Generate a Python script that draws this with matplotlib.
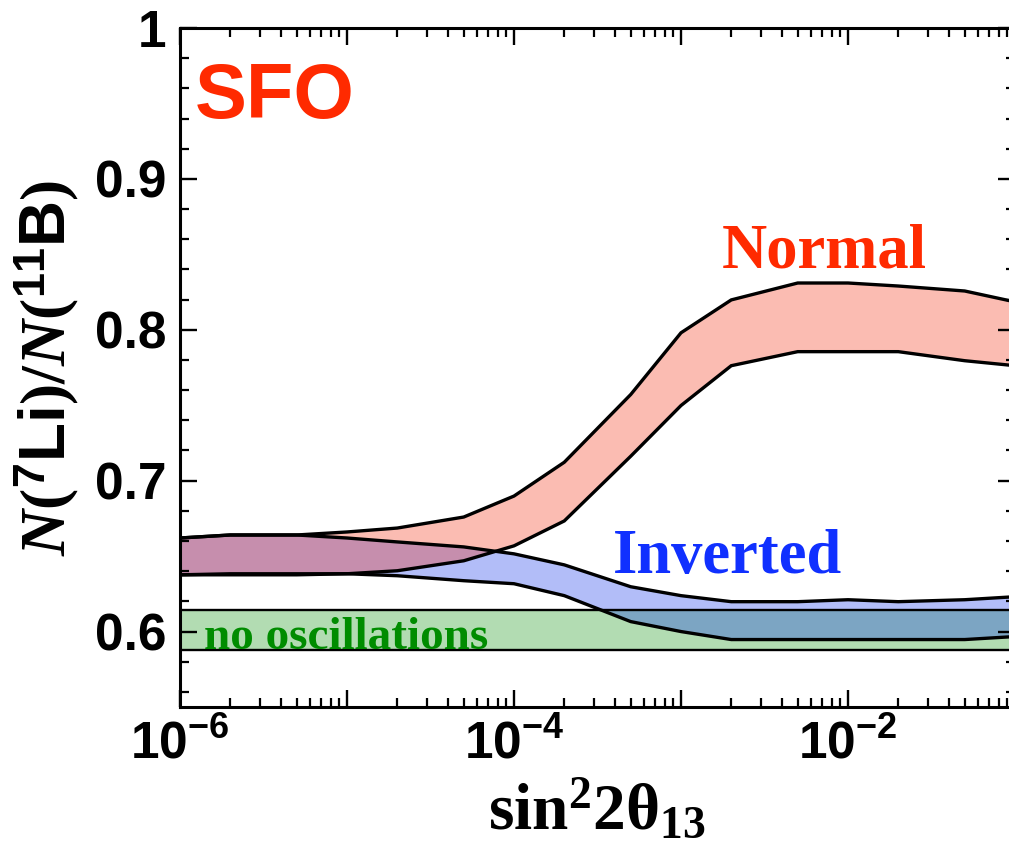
import numpy as np
import matplotlib
matplotlib.use('Agg')
import matplotlib.pyplot as plt
from matplotlib.ticker import FixedLocator, FixedFormatter, NullFormatter, LogLocator

# --- datos ---
sin2 = [1e-6, 2e-6, 5e-6, 1e-5, 2e-5, 5e-5, 1e-4, 2e-4, 5e-4,
        1e-3, 2e-3, 5e-3, 1e-2, 2e-2, 5e-2, 1e-1]

normal_alto = [0.662, 0.664, 0.664, 0.666, 0.6686, 0.6759, 0.6898, 0.7122, 0.7571,
               0.798, 0.8198, 0.831, 0.831, 0.829, 0.8257, 0.8185]
normal_bajo = [0.6376, 0.6383, 0.6383, 0.6383, 0.6403, 0.6469, 0.6568, 0.6733, 0.7162,
               0.7498, 0.7762, 0.7855, 0.7855, 0.7855, 0.7795, 0.7762]

invertido_alto = [0.662, 0.664, 0.664, 0.662, 0.6594, 0.6561, 0.6515, 0.6442, 0.6297,
                  0.6238, 0.6198, 0.6198, 0.6211, 0.6198, 0.6211, 0.6231]
invertido_bajo = [0.6376, 0.6376, 0.6376, 0.6383, 0.637, 0.6337, 0.6317, 0.6238, 0.6066,
                  0.600, 0.5947, 0.5947, 0.5947, 0.5947, 0.5947, 0.5967]

sin_osc_x = [1e-6, 1e-1]
sin_osc_bajo = 0.5881
sin_osc_alto = 0.6145

ticks_x = [1e-6, 1e-5, 1e-4, 1e-3, 1e-2, 1e-1]
etiquetas_x = [r'$\mathdefault{10^{-6}}$', '', r'$\mathdefault{10^{-4}}$', '',
               r'$\mathdefault{10^{-2}}$', '']
ticks_y = [0.6, 0.7, 0.8, 0.9, 1.0]
etiquetas_y = ['0.6', '0.7', '0.8', '0.9', '1']

# --- fuentes ---
plt.rcParams['font.family'] = ['Liberation Sans', 'DejaVu Sans']
plt.rcParams['font.weight'] = 'bold'
plt.rcParams['mathtext.fontset'] = 'custom'
plt.rcParams['mathtext.rm'] = 'Liberation Serif:bold'
plt.rcParams['mathtext.it'] = 'Liberation Serif:italic'
plt.rcParams['mathtext.bf'] = 'Liberation Sans:bold'
plt.rcParams['mathtext.default'] = 'rm'

fig = plt.figure(figsize=(10.09, 8.57), dpi=100)
ax = fig.add_axes([180/1009, 1 - 707/857, 835/1009, 679/857])

rojo = (245/255, 35/255, 0)
azul = (0, 38/255, 235/255)
verde = (0, 142/255, 0)

# banda sin oscilaciones
ax.fill_between(sin_osc_x, sin_osc_bajo, sin_osc_alto, color=verde, alpha=0.3, lw=0)
ax.plot(sin_osc_x, [sin_osc_bajo]*2, color='k', lw=1.7)
ax.plot(sin_osc_x, [sin_osc_alto]*2, color='k', lw=1.7)

# jerarquia invertida
ax.fill_between(sin2, invertido_bajo, invertido_alto, color=azul, alpha=0.3, lw=0)
# jerarquia normal
ax.fill_between(sin2, normal_bajo, normal_alto, color=rojo, alpha=0.3, lw=0)

for serie in (invertido_alto, invertido_bajo, normal_alto, normal_bajo):
    ax.plot(sin2, serie, color='k', lw=2.4, solid_joinstyle='miter')

ax.set_xscale('log')
ax.set_xlim(1e-6, 1e-1)
ax.set_ylim(0.55, 1.0)

ax.xaxis.set_major_locator(FixedLocator(ticks_x))
ax.xaxis.set_major_formatter(FixedFormatter(etiquetas_x))
ax.xaxis.set_minor_locator(LogLocator(base=10, subs=np.arange(2, 10), numticks=20))
ax.xaxis.set_minor_formatter(NullFormatter())
ax.yaxis.set_major_locator(FixedLocator(ticks_y))
ax.yaxis.set_major_formatter(FixedFormatter(etiquetas_y))
ax.yaxis.set_minor_locator(FixedLocator(np.arange(0.56, 1.0, 0.02)))

ax.tick_params(which='both', direction='in', top=True, right=True)
ax.tick_params(which='major', length=12, width=1.7, labelsize=37)
ax.tick_params(which='minor', length=6.5, width=1.6)
ax.tick_params(axis='y', which='major', pad=10)
ax.tick_params(axis='x', which='major', pad=9)
for lab in ax.get_xticklabels() + ax.get_yticklabels():
    lab.set_fontweight('bold')
for s in ax.spines.values():
    s.set_linewidth(2.2)

ax.set_xlabel(r'$\mathrm{sin}^{2}2\theta_{13}$', fontsize=47)
ax.xaxis.set_label_coords(0.5, -0.103)
ax.set_ylabel(r'$\mathit{N}(^{\mathbf{7}}\mathbf{Li})/\mathit{N}(^{\mathbf{11}}\mathbf{B})$', fontsize=46)
ax.yaxis.set_label_coords(-0.118, 0.5)

ax.text(0.018, 0.867, 'SFO', transform=ax.transAxes, color='#ff2a00',
        fontsize=56, fontweight='bold', family='Liberation Sans', va='baseline')
ax.text(0.649, 0.648, 'Normal', transform=ax.transAxes, color='#ff2a00',
        fontsize=45, fontweight='bold', family='Liberation Serif', va='baseline')
ax.text(0.5186, 0.197, 'Inverted', transform=ax.transAxes, color='#1030ff',
        fontsize=45, fontweight='bold', family='Liberation Serif', va='baseline')
ax.text(0.0287, 0.0854, 'no oscillations', transform=ax.transAxes, color='#008c00',
        fontsize=34, fontweight='bold', family='Liberation Serif', va='baseline')

plt.savefig('out.png', dpi=100)
